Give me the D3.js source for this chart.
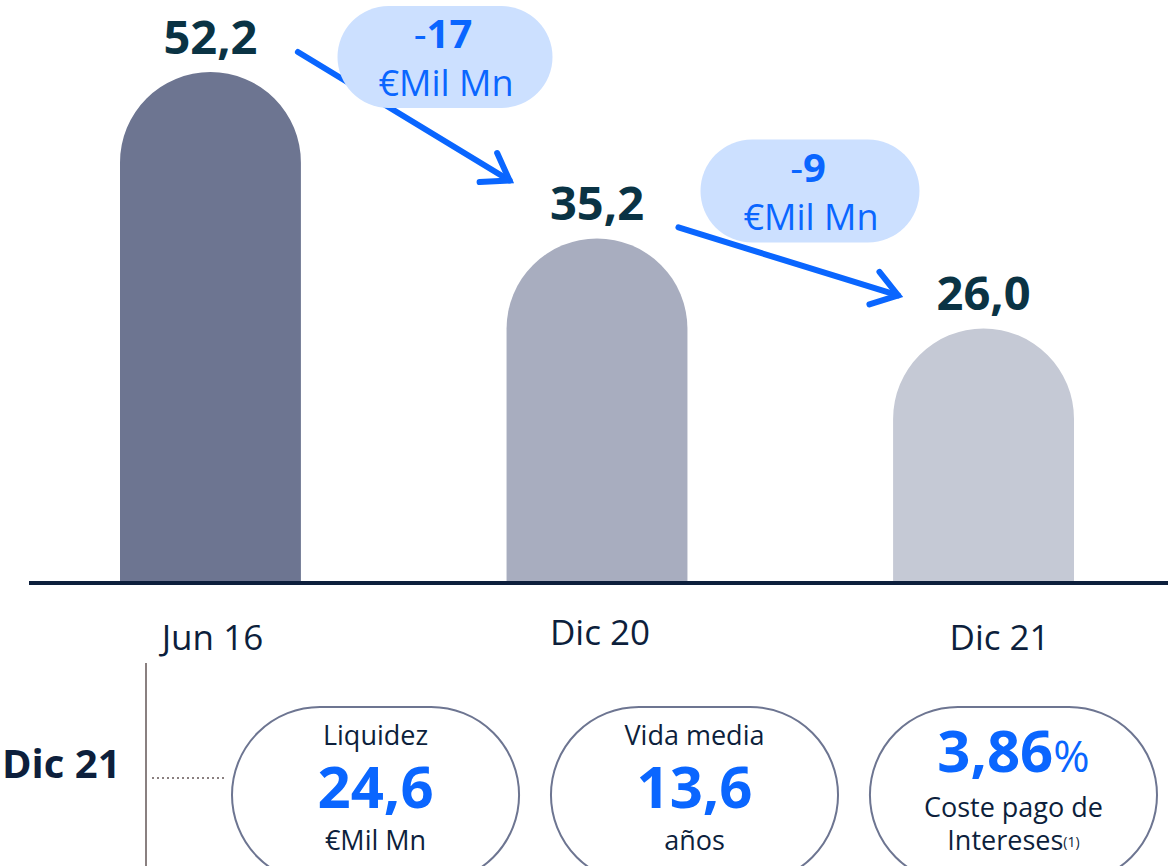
<!DOCTYPE html>
<html>
<head>
<meta charset="utf-8">
<script src="https://cdn.jsdelivr.net/npm/d3@7"></script>
<style>
  body { margin: 0; background: #fff; }
  svg { display: block; font-family: 'Open Sans', sans-serif; }
</style>
</head>
<body>
<svg id="chart" width="1168" height="866"></svg>
<script>
// Data
var periods = ['Jun 16', 'Dic 20', 'Dic 21']
var debt_values = [52.2, 35.2, 26.0]
var bar_colors = ['#6d7591', '#a8adbf', '#c5c9d5']
var kpi_titles = ['Liquidez', 'Vida media', '']
var kpi_values = ['24,6', '13,6', '3,86']
var kpi_units = ['€Mil Mn', 'años', '']
var kpi_period = 'Dic 21'

// Colors
var dark = '#0d1f3c'
var value_color = '#0a3344'
var blue = '#0a66ff'
var bubble_fill = '#cce0ff'

var svg = d3.select('#chart')

var base_y = 583
var x = d3.scaleBand()
  .domain(periods)
  .range([120, 1074])
  .paddingInner(0.532)
  .paddingOuter(0)
var y = d3.scaleLinear()
  .domain([0, 52.2])
  .range([base_y, 72])

function fmt(v) {
  return v.toFixed(1).replace('.', ',')
}

// Bars with rounded tops
function bar_path(d, i) {
  var x0 = x(periods[i])
  var w = x.bandwidth()
  var r = w / 2
  var top = y(d)
  return 'M' + x0 + ',' + base_y +
    'L' + x0 + ',' + (top + r) +
    'A' + r + ',' + r + ' 0 0 1 ' + (x0 + w) + ',' + (top + r) +
    'L' + (x0 + w) + ',' + base_y + 'Z'
}

svg.selectAll('.bar')
  .data(debt_values)
  .enter()
  .append('path')
  .attr('class', 'bar')
  .attr('d', bar_path)
  .attr('fill', (d, i) => bar_colors[i])

// Baseline
svg.append('line')
  .attr('x1', 29)
  .attr('x2', 1168)
  .attr('y1', base_y)
  .attr('y2', base_y)
  .attr('stroke', dark)
  .attr('stroke-width', 4)

// Value labels
svg.selectAll('.val')
  .data(debt_values)
  .enter()
  .append('text')
  .attr('class', 'val')
  .attr('x', (d, i) => x(periods[i]) + x.bandwidth() / 2)
  .attr('y', d => y(d) - 18)
  .attr('text-anchor', 'middle')
  .attr('font-size', 47)
  .attr('font-weight', 700)
  .attr('fill', value_color)
  .text(d => fmt(d))

// Category labels (small nudges to follow the original slide)
var tick_nudge_x = [2, 3, 16]
var tick_nudge_y = [0, -5, 0]
svg.selectAll('.cat')
  .data(periods)
  .enter()
  .append('text')
  .attr('class', 'cat')
  .attr('x', (d, i) => x(d) + x.bandwidth() / 2 + tick_nudge_x[i])
  .attr('y', (d, i) => 650 + tick_nudge_y[i])
  .attr('text-anchor', 'middle')
  .attr('font-size', 35)
  .attr('fill', dark)
  .text(d => d)

// Change arrows between bars
function draw_arrow(x1, y1, x2, y2) {
  var g = svg.append('g')
    .attr('stroke', blue)
    .attr('stroke-width', 6)
    .attr('stroke-linecap', 'round')
    .attr('fill', 'none')
  g.append('line')
    .attr('x1', x1).attr('y1', y1)
    .attr('x2', x2).attr('y2', y2)
  var ang = Math.atan2(y2 - y1, x2 - x1)
  var len = 30
  var spread = 0.6
  g.append('path')
    .attr('stroke-linejoin', 'miter')
    .attr('d', 'M' + (x2 - len * Math.cos(ang - spread)) + ',' + (y2 - len * Math.sin(ang - spread)) +
      'L' + x2 + ',' + y2 +
      'L' + (x2 - len * Math.cos(ang + spread)) + ',' + (y2 - len * Math.sin(ang + spread)))
}

function draw_bubble(cx, cy, w, h, change) {
  svg.append('rect')
    .attr('x', cx - w / 2)
    .attr('y', cy - h / 2)
    .attr('width', w)
    .attr('height', h)
    .attr('rx', h / 2)
    .attr('fill', bubble_fill)
  var t = svg.append('text')
    .attr('x', cx - 2)
    .attr('y', cy - 9)
    .attr('text-anchor', 'middle')
    .attr('font-size', 40)
    .attr('fill', blue)
  t.append('tspan').attr('font-weight', 400).text('-')
  t.append('tspan').attr('font-weight', 700).text(Math.abs(change))
  svg.append('text')
    .attr('x', cx + 1)
    .attr('y', cy + 39)
    .attr('text-anchor', 'middle')
    .attr('font-size', 36)
    .attr('fill', blue)
    .text('€Mil Mn')
}

var bw = x.bandwidth()
var ax1 = x(periods[0]) + bw - 3
var ax2 = x(periods[1])
draw_arrow(ax1, y(debt_values[0]) - 20, ax2 + 3, y(debt_values[1]) - 58)
draw_bubble(445, 57, 215, 102, Math.round(debt_values[1] - debt_values[0]))

var bx1 = x(periods[1]) + bw - 9
var bx2 = x(periods[2])
draw_arrow(bx1, y(debt_values[1]) - 11, bx2 + 5, y(debt_values[2]) - 33)
draw_bubble(810, 191, 219, 103, Math.round(debt_values[2] - debt_values[1]))

// Bottom KPI section
svg.append('text')
  .attr('x', 2)
  .attr('y', 778)
  .attr('font-size', 40)
  .attr('font-weight', 700)
  .attr('fill', dark)
  .text(kpi_period)

svg.append('line')
  .attr('x1', 146).attr('x2', 146)
  .attr('y1', 663).attr('y2', 866)
  .attr('stroke', '#8a8080')
  .attr('stroke-width', 2)

svg.append('line')
  .attr('x1', 152).attr('x2', 224)
  .attr('y1', 778).attr('y2', 778)
  .attr('stroke', '#8a8080')
  .attr('stroke-width', 2)
  .attr('stroke-dasharray', '2,3')

var kpi_x = d3.scaleBand()
  .domain(d3.range(kpi_values.length))
  .range([232, 1157])
  .paddingInner(0.1)
  .paddingOuter(0)

kpi_values.forEach((v, i) => {
  var x0 = kpi_x(i)
  var w = kpi_x.bandwidth()
  var cx = x0 + w / 2
  svg.append('rect')
    .attr('x', x0)
    .attr('y', 707)
    .attr('width', w)
    .attr('height', 176)
    .attr('rx', 88)
    .attr('ry', 88)
    .attr('fill', '#fff')
    .attr('stroke', '#6d7591')
    .attr('stroke-width', 2)

  if (kpi_titles[i]) {
    svg.append('text')
      .attr('x', cx)
      .attr('y', 745)
      .attr('text-anchor', 'middle')
      .attr('font-size', 27)
      .attr('fill', dark)
      .text(kpi_titles[i])
    svg.append('text')
      .attr('x', cx)
      .attr('y', 808)
      .attr('text-anchor', 'middle')
      .attr('font-size', 58)
      .attr('font-weight', 700)
      .attr('fill', blue)
      .text(v)
    svg.append('text')
      .attr('x', cx)
      .attr('y', 850)
      .attr('text-anchor', 'middle')
      .attr('font-size', 27)
      .attr('fill', dark)
      .text(kpi_units[i])
  } else {
    var t = svg.append('text')
      .attr('x', cx)
      .attr('y', 772)
      .attr('text-anchor', 'middle')
      .attr('fill', blue)
    t.append('tspan').attr('font-size', 58).attr('font-weight', 700).text(v)
    t.append('tspan').attr('font-size', 44).attr('font-weight', 400).text('%')
    svg.append('text')
      .attr('x', cx)
      .attr('y', 817)
      .attr('text-anchor', 'middle')
      .attr('font-size', 27)
      .attr('fill', dark)
      .text('Coste pago de')
    var t2 = svg.append('text')
      .attr('x', cx)
      .attr('y', 850)
      .attr('text-anchor', 'middle')
      .attr('font-size', 27)
      .attr('fill', dark)
    t2.append('tspan').text('Intereses')
    t2.append('tspan').attr('font-size', 14).attr('dy', -3).text('(1)')
  }
})
</script>
</body>
</html>
